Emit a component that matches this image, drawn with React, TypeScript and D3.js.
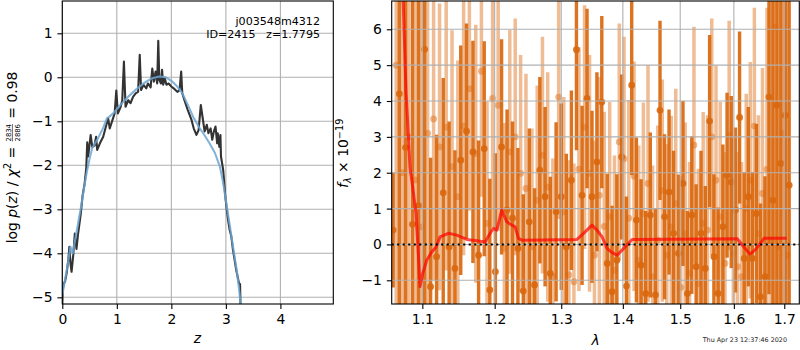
import React, { useEffect, useRef } from "react";
import * as d3 from "d3";

// ---------- Left panel: redshift PDF ----------
const zBlack = [0.0, 0.01, 0.03, 0.05, 0.08, 0.11, 0.13, 0.15, 0.17, 0.2, 0.23, 0.26, 0.29, 0.34, 0.37, 0.41, 0.44, 0.457, 0.475, 0.52, 0.55, 0.59, 0.62, 0.64, 0.69, 0.75, 0.8, 0.84, 0.87, 0.96, 0.99, 1.02, 1.07, 1.1, 1.13, 1.16, 1.21, 1.25, 1.3, 1.35, 1.39, 1.42, 1.445, 1.49, 1.54, 1.57, 1.62, 1.65, 1.68, 1.71, 1.74, 1.76, 1.78, 1.81, 1.83, 1.85, 1.88, 1.91, 1.95, 2.0, 2.06, 2.11, 2.15, 2.18, 2.2, 2.24, 2.3, 2.37, 2.41, 2.46, 2.5, 2.54, 2.58, 2.61, 2.65, 2.68, 2.72, 2.75, 2.78, 2.81, 2.84, 2.85, 2.88, 2.9, 2.91, 2.95, 2.99, 3.01, 3.04, 3.07, 3.1, 3.13, 3.19, 3.24, 3.26, 3.27];
const logpBlack = [-5.2, -4.8, -4.68, -4.64, -4.45, -4.15, -3.85, -4.23, -4.42, -4.05, -3.55, -3.9, -3.55, -3.09, -2.71, -2.41, -2.05, -1.48, -1.8, -1.31, -1.58, -1.55, -1.35, -1.65, -1.5, -1.35, -1.12, -0.93, -1.16, -0.82, -0.3, -0.82, -0.67, -0.52, 0.36, -0.67, -0.52, -0.59, -0.44, -0.36, -0.33, 0.51, -0.29, -0.17, -0.25, -0.14, -0.23, 0.2, -0.1, 0.13, -0.14, 0.83, -0.06, -0.14, 0.17, -0.17, -0.02, -0.17, -0.14, -0.21, -0.27, -0.33, -0.29, 0.13, -0.36, -0.52, -0.74, -0.97, -1.16, -1.31, -1.2, -0.63, -0.97, -1.23, -1.08, -1.27, -1.16, -1.42, -1.23, -1.12, -1.5, -1.27, -1.58, -1.31, -1.8, -2.1, -2.71, -2.94, -3.24, -3.47, -3.62, -3.92, -4.38, -4.68, -4.7, -5.3];
const zSmooth = [0.0, 0.05, 0.1, 0.15, 0.19, 0.25, 0.3, 0.35, 0.4, 0.45, 0.5, 0.55, 0.65, 0.75, 0.82, 0.86, 0.95, 1.05, 1.2, 1.35, 1.5, 1.65, 1.78, 1.9, 2.0, 2.1, 2.2, 2.3, 2.4, 2.5, 2.6, 2.7, 2.8, 2.89, 2.95, 3.0, 3.05, 3.1, 3.15, 3.2, 3.25, 3.28];
const logpSmooth = [-4.95, -4.6, -4.25, -3.85, -4.0, -3.6, -3.25, -2.9, -2.5, -2.15, -1.85, -1.6, -1.4, -1.15, -0.93, -0.9, -0.8, -0.65, -0.45, -0.28, -0.13, -0.02, 0.02, 0.0, -0.08, -0.2, -0.36, -0.62, -0.9, -1.12, -1.3, -1.5, -1.72, -2.03, -2.4, -2.8, -3.2, -3.6, -4.0, -4.4, -4.9, -5.3];
const zTicks = [0, 1, 2, 3, 4];
const logpTicks = [-5, -4, -3, -2, -1, 0, 1];

// ---------- Right panel: spectrum ----------
const lamTicks = [1.1, 1.2, 1.3, 1.4, 1.5, 1.6, 1.7];
const fluxTicks = [-1, 0, 1, 2, 3, 4, 5, 6];

const waveA = [1.062, 1.070, 1.078, 1.087, 1.095, 1.103, 1.111, 1.119, 1.128, 1.136,
  1.144, 1.152, 1.160, 1.169, 1.177, 1.185, 1.193, 1.201, 1.210, 1.218,
  1.226, 1.234, 1.242, 1.251, 1.259, 1.267, 1.275, 1.283, 1.292, 1.300,
  1.308, 1.316, 1.324, 1.333, 1.341, 1.349, 1.357, 1.365, 1.374, 1.382,
  1.390, 1.398, 1.406, 1.415, 1.423, 1.431, 1.439, 1.447, 1.456, 1.464,
  1.472, 1.480, 1.488, 1.497, 1.505, 1.513, 1.521, 1.529, 1.538, 1.546,
  1.554, 1.562, 1.570, 1.579, 1.587, 1.595, 1.603, 1.611, 1.620, 1.628,
  1.636, 1.644, 1.652, 1.661, 1.669, 1.677, 1.685, 1.693, 1.702, 1.710];
const fluxA = [0.4, 4.2, 2.7, 0.56, 1.08, 5.44, -1.18, -0.34, 1.44, -0.07,
  -0.67, 2.35, 3.16, 2.58, -0.3, 2.67, -1.27, -0.76, 2.72, 0.96,
  0.73, -0.11, -1.3, 0.63, -1.13, 2.07, 1.33, -0.81, 0.91, 1.33,
  -0.07, 1.79, 5.43, 1.37, 4.07, 1.33, 2.3, 3.97, -0.53, -1.32,
  -0.44, 2.44, -1.16, 4.44, 0.68, -0.58, -1.37, 0.82, -1.41, 3.74,
  0.77, 1.46, 0.31, -0.25, 1.7, -1.37, 0.82, -0.62, 0.31, -0.67,
  3.44, -0.34, -1.37, 0.49, 1.93, 1.74, 0.96, 3.54, -0.39, 1.33,
  -0.39, 0.86, -1.46, -0.9, 4.11, 1.23, 3.88, 2.26, 3.6, 1.65];
const errA = [1.6, 12, 12, 10, 9, 8, 3.6, 3.4, 3.2, 3.5,
  3.3, 3.2, 3.0, 3.1, 3.2, 3.0, 3.1, 3.3, 3.0, 2.8,
  2.7, 2.8, 2.7, 2.6, 2.7, 2.6, 2.5, 2.7, 2.5, 2.6,
  2.6, 2.5, 2.8, 2.5, 2.5, 2.4, 2.5, 2.4, 2.5, 2.4,
  2.4, 2.3, 2.5, 2.5, 2.3, 2.4, 2.3, 2.3, 2.4, 2.5,
  2.3, 2.3, 2.3, 2.2, 2.3, 2.3, 2.2, 2.3, 2.3, 2.3,
  2.4, 2.3, 2.4, 2.3, 2.3, 2.4, 2.3, 2.4, 2.4, 2.5,
  2.4, 2.5, 2.6, 2.8, 5.5, 10, 11, 12, 12, 12];

const waveB = [1.066, 1.074, 1.082, 1.091, 1.099, 1.107, 1.115, 1.123, 1.132, 1.140,
  1.148, 1.156, 1.164, 1.173, 1.181, 1.189, 1.197, 1.205, 1.214, 1.222,
  1.230, 1.238, 1.246, 1.255, 1.263, 1.271, 1.279, 1.287, 1.296, 1.304,
  1.312, 1.320, 1.328, 1.337, 1.345, 1.353, 1.361, 1.369, 1.378, 1.386,
  1.394, 1.402, 1.410, 1.419, 1.427, 1.435, 1.443, 1.451, 1.460, 1.468,
  1.476, 1.484, 1.492, 1.501, 1.509, 1.517, 1.525, 1.533, 1.542, 1.550,
  1.558, 1.566, 1.574, 1.583, 1.591, 1.599, 1.607, 1.615, 1.624, 1.632,
  1.640, 1.648, 1.656, 1.665, 1.673, 1.681, 1.689, 1.697, 1.706];
const fluxB = [5.0, 2.0, 3.0, 1.8, 0.49, 3.1, 3.5, 2.72, 3.27, 2.17,
  1.33, 3.3, 4.34, 2.53, 4.83, 0.59, 4.07, 3.88, -0.11, 2.58,
  3.0, 1.98, 1.56, -0.07, 1.23, 2.49, 1.6, -0.9, 4.11, 0.91,
  -0.85, -1.04, 2.1, 3.27, 1.98, -0.3, 1.37, 0.5, 0.77, -0.72,
  2.86, 2.39, 0.73, 1.9, -0.44, 0.86, 1.7, -0.9, 0.12, 1.5,
  -0.3, 0.49, 1.14, -1.2, 0.3, -0.8, 2.77, -1.09, 0.59, 0.4,
  3.0, 1.79, 0.77, -0.53, 3.04, -0.25, -0.62, -0.9, 1.0, 1.79,
  3.3, 0.3, 1.42, 2.1, 0.12, 6.06, -0.07, 3.1, -0.3];
const errB = [12, 12, 12, 10, 9, 8, 4.5, 4.0, 4.0, 3.8,
  3.8, 3.6, 3.4, 3.6, 3.5, 3.4, 3.6, 3.5, 3.5, 3.4,
  3.3, 3.3, 3.2, 3.3, 3.2, 3.3, 3.2, 3.3, 3.4, 3.2,
  3.2, 3.3, 3.4, 3.4, 3.3, 3.2, 3.3, 3.2, 3.2, 3.2,
  3.3, 3.4, 3.3, 3.2, 3.2, 3.1, 3.3, 3.1, 3.2, 3.1,
  3.1, 3.1, 3.2, 3.1, 3.1, 3.1, 3.3, 3.2, 3.1, 3.2,
  3.3, 3.2, 3.2, 3.1, 3.2, 3.2, 3.2, 3.2, 3.2, 3.3,
  3.3, 3.3, 3.5, 4.5, 9, 10, 11, 12, 12];

const waveModel = [1.072, 1.075, 1.0785, 1.0816, 1.0837, 1.0873, 1.0916, 1.0947, 1.0969, 1.1005, 1.1058, 1.1125, 1.1183, 1.1237, 1.135, 1.1465, 1.1604, 1.1745, 1.1863, 1.1934, 1.1982, 1.2031, 1.2103, 1.2176, 1.2251, 1.2299, 1.2348, 1.2399, 1.3248, 1.3355, 1.349, 1.3572, 1.3654, 1.3736, 1.382, 1.3903, 1.4015, 1.4157, 1.6065, 1.6195, 1.6313, 1.6425, 1.6591, 1.705];
const fluxModel = [9.0, 6.8, 4.3, 3.09, 2.16, 1.6, 0.87, -0.25, -1.18, -0.81, -0.44, -0.21, -0.07, 0.21, 0.31, 0.26, 0.14, 0.1, 0.07, 0.31, 0.45, 0.4, 0.96, 0.63, 0.54, 0.49, 0.17, 0.12, 0.14, 0.31, 0.54, 0.4, 0.21, -0.11, -0.23, -0.3, -0.11, 0.14, 0.16, -0.07, -0.27, -0.14, 0.17, 0.17];

const annotLine1 = "j003548m4312";
const annotLine2 = "ID=2415   z=1.7795";
const timestamp = "Thu Apr 23 12:37:46 2020";

const FONT = "DejaVu Sans";
const FS = 13.9;

export default function App() {
  const ref = useRef<SVGSVGElement>(null);

  useEffect(() => {
    const svg = d3.select(ref.current);
    svg.selectAll("*").remove();
    svg.attr("font-family", FONT);

    const L = { x0: 62.3, x1: 333.3, y0: 1, y1: 304 };
    const R = { x0: 391.7, x1: 799.3, y0: 1, y1: 304 };

    const defs = svg.append("defs");
    defs.append("clipPath").attr("id", "clipL").append("rect")
      .attr("x", L.x0).attr("y", L.y0).attr("width", L.x1 - L.x0).attr("height", L.y1 - L.y0);
    defs.append("clipPath").attr("id", "clipR").append("rect")
      .attr("x", R.x0).attr("y", R.y0).attr("width", R.x1 - R.x0).attr("height", R.y1 - R.y0);

    const styleAxis = (g: any) => {
      g.select(".domain").remove();
      g.attr("font-family", FONT).attr("font-size", FS);
      g.selectAll(".tick line").attr("stroke", "black").attr("stroke-width", 1.1);
      g.selectAll(".tick text").attr("fill", "black");
    };

    // ===== LEFT =====
    const xL = d3.scaleLinear().domain([0, 4.97]).range([L.x0, L.x1]);
    const yL = d3.scaleLinear().domain([-5.152, 1.734]).range([L.y1, L.y0]);
    const gL = svg.append("g");
    const gridL = gL.append("g").attr("stroke", "#b0b0b0").attr("stroke-width", 1.1);
    gridL.selectAll("line.v").data(zTicks).join("line").attr("class", "v")
      .attr("x1", (d) => xL(d)).attr("x2", (d) => xL(d)).attr("y1", L.y0).attr("y2", L.y1);
    gridL.selectAll("line.h").data(logpTicks).join("line").attr("class", "h")
      .attr("x1", L.x0).attr("x2", L.x1).attr("y1", (d) => yL(d)).attr("y2", (d) => yL(d));

    const plotL = gL.append("g").attr("clip-path", "url(#clipL)");
    const lineL = d3.line<number[]>().x((d) => xL(d[0])).y((d) => yL(d[1]));
    plotL.append("path").datum(zBlack.map((z, i) => [z, logpBlack[i]]))
      .attr("d", lineL).attr("fill", "none").attr("stroke", "#333333")
      .attr("stroke-width", 2.1).attr("stroke-linejoin", "round");
    plotL.append("path").datum(zSmooth.map((z, i) => [z, logpSmooth[i]]))
      .attr("d", lineL).attr("fill", "none").attr("stroke", "#6fa6d3")
      .attr("stroke-opacity", 0.85).attr("stroke-width", 2.1).attr("stroke-linejoin", "round");

    gL.append("rect").attr("x", L.x0).attr("y", L.y0).attr("width", L.x1 - L.x0).attr("height", L.y1 - L.y0)
      .attr("fill", "none").attr("stroke", "black").attr("stroke-width", 1.1);
    gL.append("g").attr("transform", `translate(0,${L.y1})`)
      .call(d3.axisBottom(xL).tickValues(zTicks).tickSize(4.9).tickPadding(4.9).tickFormat(d3.format("d")))
      .call(styleAxis);
    gL.append("g").attr("transform", `translate(${L.x0},0)`)
      .call(d3.axisLeft(yL).tickValues(logpTicks).tickSize(4.9).tickPadding(4.9).tickFormat(d3.format("d")))
      .call(styleAxis);

    // annotation
    gL.append("text").attr("x", 320).attr("y", 24.5).attr("text-anchor", "end")
      .attr("font-size", 11.1).style("white-space", "pre").text(annotLine1);
    gL.append("text").attr("x", 320).attr("y", 38.3).attr("text-anchor", "end")
      .attr("font-size", 11.1).style("white-space", "pre").text(annotLine2);

    // x label
    gL.append("text").attr("x", 197.5).attr("y", 343).attr("text-anchor", "middle")
      .attr("font-size", FS).attr("font-style", "italic").text("z");

    // y label (mathtext-like)
    const yl = svg.append("g").attr("transform", "translate(16.5,157.5) rotate(-90)");
    const inner = yl.append("g");
    const t1 = inner.append("text").attr("x", 0).attr("y", 0).attr("font-size", FS).style("white-space", "pre");
    t1.append("tspan").text("log ");
    t1.append("tspan").attr("font-style", "italic").text("p");
    t1.append("tspan").text("(");
    t1.append("tspan").attr("font-style", "italic").text("z");
    t1.append("tspan").text(") / ");
    t1.append("tspan").attr("font-style", "italic").text("χ");
    t1.append("tspan").attr("font-size", 9.7).attr("dy", -5.5).text("2");
    t1.append("tspan").attr("dy", 5.5).text(" = ");
    const w1 = (t1.node() as SVGTextElement).getComputedTextLength();
    const num = inner.append("text").attr("font-size", 6.8).attr("text-anchor", "middle").text("2834");
    const fw = (num.node() as SVGTextElement).getComputedTextLength();
    const fx = w1 + 1;
    num.attr("x", fx + fw / 2).attr("y", -5.3);
    inner.append("text").attr("font-size", 6.8).attr("text-anchor", "middle")
      .attr("x", fx + fw / 2).attr("y", 3.6).text("2886");
    inner.append("line").attr("x1", fx).attr("x2", fx + fw).attr("y1", -4.1).attr("y2", -4.1)
      .attr("stroke", "black").attr("stroke-width", 0.6);
    inner.append("text").attr("x", fx + fw + 1).attr("y", 0).attr("font-size", FS)
      .style("white-space", "pre").text(" = 0.98");
    const bb = (inner.node() as SVGGElement).getBBox();
    inner.attr("transform", `translate(${-(bb.x + bb.width / 2)},0)`);

    // ===== RIGHT =====
    const xR = d3.scaleLog().domain([1.0602, 1.731]).range([R.x0, R.x1]);
    const yR = d3.scaleLinear().domain([-1.661, 6.789]).range([R.y1, R.y0]);
    const gR = svg.append("g");
    const plotR = gR.append("g").attr("clip-path", "url(#clipR)");

    const drawSeries = (w: number[], f: number[], e: number[], color: string, barOp: number, dotOp: number, bw: number) => {
      const data = w.map((l, i) => ({ l, f: f[i], e: e[i] }));
      const g = plotR.append("g");
      g.selectAll("line").data(data).join("line")
        .attr("x1", (d) => xR(d.l)).attr("x2", (d) => xR(d.l))
        .attr("y1", (d) => yR(d.f - d.e)).attr("y2", (d) => yR(d.f + d.e))
        .attr("stroke", color).attr("stroke-opacity", barOp).attr("stroke-width", bw);
      g.selectAll("circle").data(data).join("circle")
        .attr("cx", (d) => xR(d.l)).attr("cy", (d) => yR(d.f)).attr("r", 3.4)
        .attr("fill", color).attr("fill-opacity", dotOp);
    };
    drawSeries(waveB, fluxB, errB, "#e07a2a", 0.5, 0.55, 3.5);
    drawSeries(waveA, fluxA, errA, "#d9670d", 0.92, 0.9, 3.4);

    const gridR = gR.append("g").attr("stroke", "#b0b0b0").attr("stroke-width", 1.1);
    gridR.selectAll("line.v").data(lamTicks).join("line").attr("class", "v")
      .attr("x1", (d) => xR(d)).attr("x2", (d) => xR(d)).attr("y1", R.y0).attr("y2", R.y1);
    gridR.selectAll("line.h").data(fluxTicks).join("line").attr("class", "h")
      .attr("x1", R.x0).attr("x2", R.x1).attr("y1", (d) => yR(d)).attr("y2", (d) => yR(d));

    const plotR2 = gR.append("g").attr("clip-path", "url(#clipR)");
    const lineR = d3.line<number[]>().x((d) => xR(d[0])).y((d) => yR(d[1]));
    plotR2.append("path").datum(waveModel.map((l, i) => [l, fluxModel[i]]))
      .attr("d", lineR).attr("fill", "none").attr("stroke", "red").attr("stroke-opacity", 0.7)
      .attr("stroke-width", 3).attr("stroke-linejoin", "round");
    plotR2.append("line").attr("x1", R.x0).attr("x2", R.x1).attr("y1", yR(0)).attr("y2", yR(0))
      .attr("stroke", "black").attr("stroke-width", 2.1).attr("stroke-dasharray", "2.1,3.4");

    gR.append("rect").attr("x", R.x0).attr("y", R.y0).attr("width", R.x1 - R.x0).attr("height", R.y1 - R.y0)
      .attr("fill", "none").attr("stroke", "black").attr("stroke-width", 1.1);
    gR.append("g").attr("transform", `translate(0,${R.y1})`)
      .call(d3.axisBottom(xR).tickValues(lamTicks).tickSize(4.9).tickPadding(4.9).tickFormat(d3.format(".1f")))
      .call(styleAxis);
    gR.append("g").attr("transform", `translate(${R.x0},0)`)
      .call(d3.axisLeft(yR).tickValues(fluxTicks).tickSize(4.9).tickPadding(4.9).tickFormat(d3.format("d")))
      .call(styleAxis);

    gR.append("text").attr("x", 595.5).attr("y", 345).attr("text-anchor", "middle")
      .attr("font-size", FS).attr("font-style", "italic").text("λ");

    const yr = svg.append("g").attr("transform", "translate(348,153.3) rotate(-90)");
    const innerR = yr.append("g");
    const t2 = innerR.append("text").attr("x", 0).attr("y", 0).attr("font-size", FS).style("white-space", "pre");
    t2.append("tspan").attr("font-style", "italic").text("f");
    t2.append("tspan").attr("font-style", "italic").attr("font-size", 9.7).attr("dy", 3).text("λ");
    t2.append("tspan").attr("dy", -3).text(" × 10");
    t2.append("tspan").attr("font-size", 9.7).attr("dy", -5.5).text("−19");
    const bb2 = (innerR.node() as SVGGElement).getBBox();
    innerR.attr("transform", `translate(${-(bb2.x + bb2.width / 2)},0)`);

    svg.append("text").attr("x", 787).attr("y", 342).attr("text-anchor", "end")
      .attr("font-size", 6.4).attr("fill", "#222").style("white-space", "pre").text(timestamp);
  }, []);

  return (
    <svg
      ref={ref}
      width={800}
      height={350}
      style={{ position: "fixed", left: 0, top: 0, display: "block", background: "white" }}
    />
  );
}
